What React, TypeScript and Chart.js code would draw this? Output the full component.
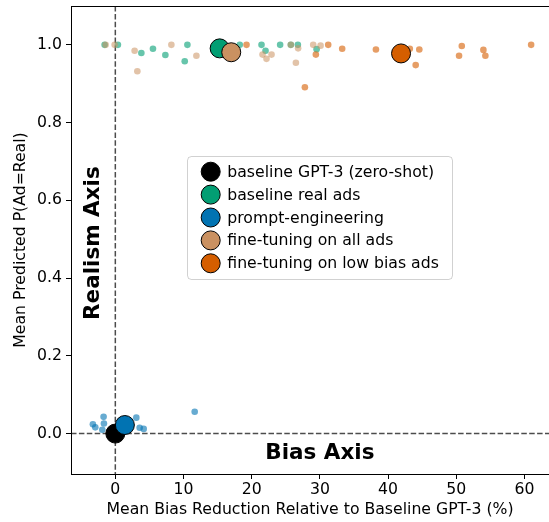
import { useEffect, useRef } from 'react';
import { Chart, registerables } from 'chart.js';

Chart.register(...registerables);

// ---- data ----
const groupNames = [
  'baseline GPT-3 (zero-shot)',
  'baseline real ads',
  'prompt-engineering',
  'fine-tuning on all ads',
  'fine-tuning on low bias ads',
];
const groupColors = ['#000000', '#029e73', '#0173b2', '#ca9161', '#d55e00'];
const smallColors = [
  'rgba(0,0,0,0.6)',
  'rgba(2,158,115,0.6)',
  'rgba(1,115,178,0.6)',
  'rgba(202,145,97,0.55)',
  'rgba(213,94,0,0.6)',
];

// group means (big markers)
const meanBias = [0.0, 15.3, 1.4, 17.0, 41.9];
const meanReal = [0.0, 0.991, 0.022, 0.981, 0.978];

// individual runs (small markers)
const realAdsBias = [-1.57, 0.38, 3.82, 5.52, 7.34, 10.57, 10.18, 18.25, 21.44, 22.03, 24.17, 25.74, 26.77, 29.52];
const realAdsReal = [1.0, 1.0, 0.979, 0.99, 0.974, 1.0, 0.958, 1.0, 1.0, 0.985, 1.0, 1.0, 1.0, 0.989];

const promptBias = [-3.29, -2.94, -1.72, -1.67, -1.91, 3.08, 3.57, 4.16, 11.64];
const promptReal = [0.024, 0.016, 0.043, 0.026, 0.01, 0.041, 0.015, 0.012, 0.056];

const ftAllBias = [-1.42, -0.1, 2.83, 3.23, 8.22, 11.89, 21.59, 22.91, 22.17, 25.74, 26.81, 26.48, 29.02, 30.1];
const ftAllReal = [1.0, 1.0, 0.985, 0.932, 1.0, 0.972, 0.975, 0.975, 0.964, 1.0, 0.991, 0.954, 1.0, 0.998];

const ftLowBias = [19.24, 27.8, 29.41, 31.22, 33.27, 38.22, 43.19, 44.58, 44.05, 50.81, 50.41, 53.98, 54.27, 60.98];
const ftLowReal = [1.0, 0.891, 0.975, 1.0, 0.99, 0.988, 0.99, 0.988, 0.948, 0.997, 0.972, 0.987, 0.972, 1.0];

const xTicks = [0, 10, 20, 30, 40, 50, 60];
const yTicks = [0, 0.2, 0.4, 0.6, 0.8, 1.0];

const xLabel = 'Mean Bias Reduction Relative to Baseline GPT-3 (%)';
const yLabel = 'Mean Predicted P(Ad=Real)';
const realismText = 'Realism Axis';
const biasText = 'Bias Axis';

const FONT = "'DejaVu Sans', sans-serif";
const FS = 15.7;

const toPts = (xs: number[], ys: number[]) => xs.map((x, i) => ({ x, y: ys[i] }));

const overlayPlugin = {
  id: 'overlay',
  beforeDatasetsDraw(chart: any) {
    const { ctx, chartArea, scales } = chart;
    const { left, right, top, bottom } = chartArea;
    const x0 = scales.x.getPixelForValue(0);
    const y0 = scales.y.getPixelForValue(0);
    ctx.save();
    ctx.strokeStyle = 'rgba(0,0,0,0.7)';
    ctx.lineWidth = 1.5;
    ctx.setLineDash([5.5, 2.4]);
    ctx.beginPath();
    ctx.moveTo(x0, top);
    ctx.lineTo(x0, bottom);
    ctx.moveTo(left, y0);
    ctx.lineTo(right, y0);
    ctx.stroke();
    ctx.restore();
  },
  afterDatasetsDraw(chart: any) {
    const { ctx, chartArea, scales } = chart;
    const { left, right, top } = chartArea;
    ctx.save();
    // top spine
    ctx.strokeStyle = '#000';
    ctx.lineWidth = 1;
    ctx.beginPath();
    ctx.moveTo(left, top + 0.5);
    ctx.lineTo(right, top + 0.5);
    ctx.stroke();

    // axis annotations
    ctx.fillStyle = '#000';
    ctx.font = `bold 21.5px ${FONT}`;
    ctx.textAlign = 'center';
    ctx.textBaseline = 'middle';
    ctx.fillText(biasText, scales.x.getPixelForValue(30), scales.y.getPixelForValue(-0.05));
    ctx.save();
    ctx.translate(scales.x.getPixelForValue(-3.2), scales.y.getPixelForValue(0.49));
    ctx.rotate(-Math.PI / 2);
    ctx.fillText(realismText, 0, 0);
    ctx.restore();

    // legend
    const lx = left + 116;
    const ly = top + 150;
    const lw = 265;
    const lh = 123;
    ctx.beginPath();
    if ((ctx as any).roundRect) (ctx as any).roundRect(lx + 0.5, ly + 0.5, lw, lh, 4);
    else ctx.rect(lx + 0.5, ly + 0.5, lw, lh);
    ctx.fillStyle = 'rgba(255,255,255,0.8)';
    ctx.fill();
    ctx.strokeStyle = 'rgba(0,0,0,0.18)';
    ctx.lineWidth = 1;
    ctx.stroke();
    ctx.font = `${FS}px ${FONT}`;
    ctx.textAlign = 'left';
    ctx.textBaseline = 'middle';
    groupNames.forEach((name, i) => {
      const cy = ly + 15.7 + i * 22.9;
      ctx.beginPath();
      ctx.arc(lx + 23.7, cy, 9.5, 0, Math.PI * 2);
      ctx.fillStyle = groupColors[i];
      ctx.fill();
      ctx.strokeStyle = '#000';
      ctx.lineWidth = 1;
      ctx.stroke();
      ctx.fillStyle = '#000';
      ctx.fillText(name, lx + 40.3, cy + 1);
    });
    ctx.restore();
  },
};

export default function App() {
  const ref = useRef<HTMLCanvasElement | null>(null);

  useEffect(() => {
    if (!ref.current) return;
    Chart.defaults.font.family = FONT;
    Chart.defaults.font.size = FS;
    Chart.defaults.color = '#000';

    const smallSets = [
      { xs: realAdsBias, ys: realAdsReal, c: 1 },
      { xs: promptBias, ys: promptReal, c: 2 },
      { xs: ftAllBias, ys: ftAllReal, c: 3 },
      { xs: ftLowBias, ys: ftLowReal, c: 4 },
    ];
    const datasets: any[] = smallSets.map((s, i) => ({
      label: groupNames[s.c],
      data: toPts(s.xs, s.ys),
      backgroundColor: smallColors[s.c],
      borderWidth: 0,
      pointRadius: 3.3,
      order: 100 - i,
    }));
    datasets.push({
      label: 'means',
      data: toPts(meanBias, meanReal),
      backgroundColor: groupColors,
      borderColor: '#000',
      borderWidth: 1,
      pointRadius: 9.5,
      order: 1,
    });

    const zeroPad = (s: any) => {
      s.paddingLeft = 0;
      s.paddingRight = 0;
      s.paddingTop = 0;
      s.paddingBottom = 0;
    };

    const chart = new Chart(ref.current, {
      type: 'scatter',
      data: { datasets },
      plugins: [overlayPlugin],
      options: {
        animation: false,
        responsive: false,
        devicePixelRatio: 1,
        events: [],
        layout: { autoPadding: false, padding: { top: 6, left: 0, right: 0, bottom: 0 } },
        plugins: { legend: { display: false }, tooltip: { enabled: false } },
        scales: {
          x: {
            type: 'linear',
            min: -6.5,
            max: 63.6,
            afterBuildTicks: (s: any) => {
              s.ticks = xTicks.map((v) => ({ value: v }));
            },
            afterFit: (s: any) => {
              s.height = 48;
              zeroPad(s);
            },
            ticks: {
              color: '#000',
              font: { size: FS, family: FONT },
              padding: 2,
              maxRotation: 0,
              autoSkip: false,
              callback: (v: any) => String(v),
            },
            grid: {
              drawOnChartArea: false,
              drawTicks: true,
              tickLength: 5,
              tickColor: '#000',
              tickWidth: 1,
            },
            border: { display: true, color: '#000', width: 1 },
            title: {
              display: true,
              text: xLabel,
              color: '#000',
              font: { size: FS, family: FONT },
              padding: { top: 0, bottom: 3 },
            },
          },
          y: {
            type: 'linear',
            min: -0.104,
            max: 1.1,
            afterBuildTicks: (s: any) => {
              s.ticks = yTicks.map((v) => ({ value: v }));
            },
            afterFit: (s: any) => {
              s.width = 71;
              zeroPad(s);
            },
            ticks: {
              color: '#000',
              font: { size: FS, family: FONT },
              padding: 4,
              autoSkip: false,
              callback: (v: any) => Number(v).toFixed(1),
            },
            grid: {
              drawOnChartArea: false,
              drawTicks: true,
              tickLength: 5,
              tickColor: '#000',
              tickWidth: 1,
            },
            border: { display: true, color: '#000', width: 1 },
            title: {
              display: true,
              text: yLabel,
              color: '#000',
              font: { size: FS, family: FONT },
              padding: { top: 12, bottom: 0 },
            },
          },
        },
      },
    });
    return () => chart.destroy();
  }, []);

  return (
    <div style={{ position: 'absolute', left: 0, top: 0, width: 549, height: 522, background: '#fff' }}>
      <canvas ref={ref} width={549} height={522} style={{ display: 'block', width: 549, height: 522 }} />
    </div>
  );
}
